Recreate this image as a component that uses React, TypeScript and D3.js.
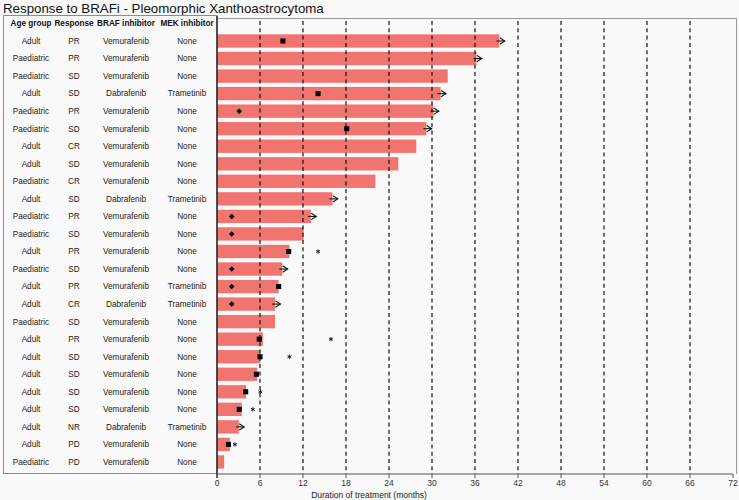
import React from "react";
import * as d3 from "d3";

const title = "Response to BRAFi - Pleomorphic Xanthoastrocytoma";
const headers = ["Age group", "Response", "BRAF inhibitor", "MEK inhibitor"];
const ageGroup = ["Adult","Paediatric","Paediatric","Adult","Paediatric","Paediatric","Adult","Adult","Paediatric","Adult","Paediatric","Paediatric","Adult","Paediatric","Adult","Adult","Paediatric","Adult","Adult","Adult","Adult","Adult","Adult","Adult","Paediatric"];
const response = ["PR","PR","SD","SD","PR","SD","CR","SD","CR","SD","PR","SD","PR","SD","PR","CR","SD","PR","SD","SD","SD","SD","NR","PD","PD"];
const brafInhibitor = ["Vemurafenib","Vemurafenib","Vemurafenib","Dabrafenib","Vemurafenib","Vemurafenib","Vemurafenib","Vemurafenib","Vemurafenib","Dabrafenib","Vemurafenib","Vemurafenib","Vemurafenib","Vemurafenib","Vemurafenib","Dabrafenib","Vemurafenib","Vemurafenib","Vemurafenib","Vemurafenib","Vemurafenib","Vemurafenib","Dabrafenib","Vemurafenib","Vemurafenib"];
const mekInhibitor = ["None","None","None","Trametinib","None","None","None","None","None","Trametinib","None","None","None","None","Trametinib","Trametinib","None","None","None","None","None","None","Trametinib","None","None"];
const duration = [39.4,36.2,32.2,31.2,30.2,29.2,27.8,25.3,22.1,16.1,13.1,12.1,10.1,9.1,8.6,8.1,8.1,6.4,6.05,5.6,4.05,3.45,3.05,1.8,1.0];
const squareMarker: (number|null)[] = [9.2,null,null,14.1,null,18.1,null,null,null,null,null,null,10.0,null,8.6,null,null,5.9,6.0,5.5,4.0,3.1,null,1.6,null];
const diamondMarker: (number|null)[] = [null,null,null,null,3.1,null,null,null,null,null,2.05,2.05,null,2.05,2.05,2.05,null,null,null,null,null,null,null,null,null];
const starMarker: (number|null)[] = [null,null,null,null,null,null,null,null,null,null,null,null,14.1,null,null,null,null,15.9,10.1,null,6.05,5.0,null,2.5,null];
const ongoing = [true,true,false,true,true,true,false,false,false,true,true,false,false,true,false,true,false,false,false,false,false,false,true,false,false];
const xTicks = [0,6,12,18,24,30,36,42,48,54,60,66,72];
const gridLines = [6,12,18,24,30,36,42,48,54,60,66];
const xTitle = "Duration of treatment (months)";

const W = 739, H = 500;
const FONT = "'Liberation Sans', Arial, Helvetica, sans-serif";
const BAR = "#F07570";

export default function App() {
  const rows = d3.range(duration.length);
  const x = d3.scaleLinear().domain([0, 72]).range([217, 733]);
  const step = 17.54;
  const y = d3.scaleBand<number>().domain(rows).range([41 - step / 2, 41 - step / 2 + step * rows.length]).paddingInner(0.24).paddingOuter(0.12);
  const cy = (i: number) => (y(i) as number) + y.bandwidth() / 2;
  const colX = [31, 74, 126, 187];
  const headerY = cy(0) - step;
  const top = 15, axisY = 474;
  const cols = [ageGroup, response, brafInhibitor, mekInhibitor];
  const diamond = d3.symbol().type(d3.symbolSquare).size(15)();
  const square = d3.symbol().type(d3.symbolSquare).size(26)();
  const asterisk = (() => {
    const r = 2.2;
    const p = d3.path();
    for (let k = 0; k < 3; k++) {
      const a = Math.PI / 2 + (k * Math.PI) / 3;
      p.moveTo(r * Math.cos(a), -r * Math.sin(a));
      p.lineTo(-r * Math.cos(a), r * Math.sin(a));
    }
    return p.toString();
  })();
  const line = d3.line<[number, number]>();

  return (
    <svg width={W} height={H} style={{ position: "absolute", left: 0, top: 0, fontFamily: FONT }}>
      <rect width={W} height={H} fill="#f9f9f9" />
      <text x={3} y={12.5} fontSize={13.3} fill="#111">{title}</text>
      {/* table box */}
      <rect x={3.5} y={top + 0.5} width={213.5} height={axisY - top - 1} fill="none" stroke="#8a8a8a" strokeWidth={1} />
      {headers.map((h, j) => (
        <text key={h} x={colX[j]} y={headerY} dy="0.35em" textAnchor="middle" fontSize={8.2} fontWeight="bold" fill="#111">{h}</text>
      ))}
      {cols.map((col, j) => col.map((v, i) => (
        <text key={j + "-" + i} x={colX[j]} y={cy(i)} dy="0.35em" textAnchor="middle" fontSize={8.2} fill="#222">{v}</text>
      )))}
      {/* plot panel */}
      <path d={`M${x(0)},${top + 3.5}H736.5V${axisY}`} fill="none" stroke="#9a9a9a" strokeWidth={1} />
      {rows.map((i) => (
        <rect key={"b" + i} x={x(0)} y={y(i)} width={x(duration[i]) - x(0)} height={y.bandwidth()} fill={BAR} />
      ))}
      {gridLines.map((g) => (
        <line key={"g" + g} x1={x(g)} x2={x(g)} y1={top + 6} y2={axisY} stroke="#111" strokeWidth={1.2} strokeDasharray="4,3.3" />
      ))}
      {rows.map((i) => ongoing[i] ? (
        <g key={"a" + i} stroke="#111" strokeWidth={1.1} fill="none">
          <path d={line([[x(duration[i] - 0.4), cy(i)], [x(duration[i] + 0.75), cy(i)]]) as string} />
          <path d={line([[x(duration[i] + 0.75) - 5, cy(i) - 3.2], [x(duration[i] + 0.75), cy(i)], [x(duration[i] + 0.75) - 5, cy(i) + 3.2]]) as string} />
        </g>
      ) : null)}
      {rows.map((i) => squareMarker[i] != null ? (
        <path key={"s" + i} d={square as string} transform={`translate(${x(squareMarker[i] as number)},${cy(i)})`} fill="#000" />
      ) : null)}
      {rows.map((i) => diamondMarker[i] != null ? (
        <path key={"d" + i} d={diamond as string} transform={`translate(${x(diamondMarker[i] as number)},${cy(i)}) rotate(45)`} fill="#000" />
      ) : null)}
      {rows.map((i) => starMarker[i] != null ? (
        <path key={"st" + i} d={asterisk} transform={`translate(${x(starMarker[i] as number)},${cy(i)})`} stroke="#111" strokeWidth={0.9} fill="none" />
      ) : null)}
      {/* axes */}
      <line x1={x(0)} x2={x(0)} y1={top + 1} y2={axisY + 4} stroke="#000" strokeWidth={1.2} />
      <line x1={x(0)} x2={x(72)} y1={axisY} y2={axisY} stroke="#555" strokeWidth={1} />
      {xTicks.map((t) => (
        <g key={"t" + t}>
          <line x1={x(t)} x2={x(t)} y1={axisY} y2={axisY + 4} stroke="#555" strokeWidth={1} />
          <text x={x(t)} y={483} dy="0.35em" textAnchor="middle" fontSize={8.5} fill="#333">{t}</text>
        </g>
      ))}
      <text x={369} y={495.5} dy="0.35em" textAnchor="middle" fontSize={8.5} fill="#222">{xTitle}</text>
    </svg>
  );
}
